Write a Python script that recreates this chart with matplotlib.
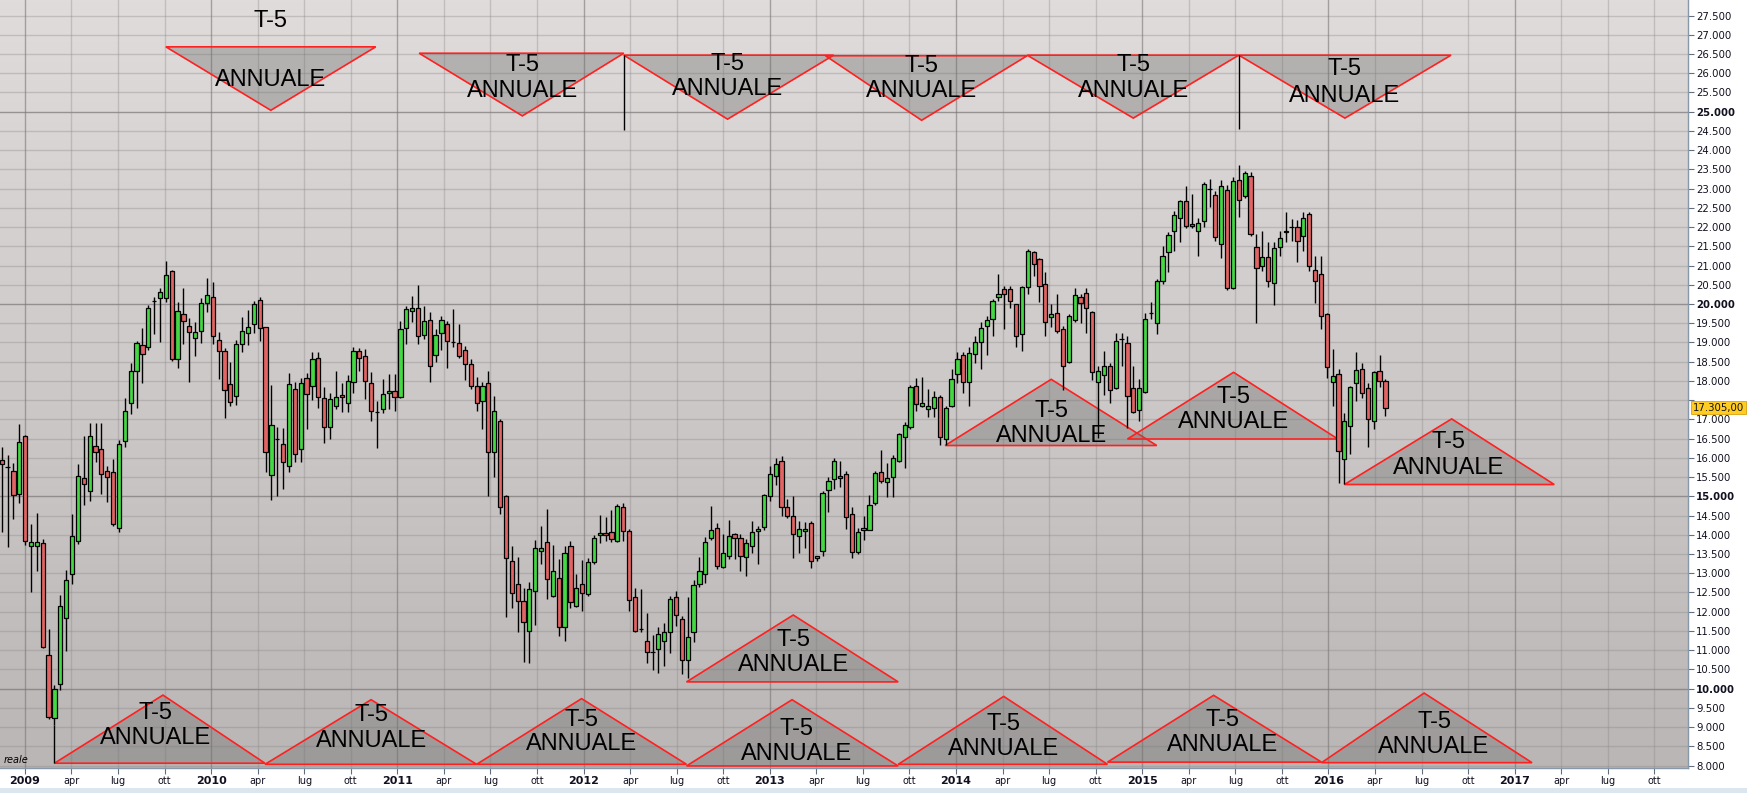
import numpy as np
import matplotlib
matplotlib.use("Agg")
import matplotlib.pyplot as plt
from matplotlib.patches import Polygon
from matplotlib.colors import LinearSegmentedColormap
from matplotlib.transforms import blended_transform_factory

# candele (O, H, L, C), una ogni ~11 giorni circa, da fine 2008 ad aprile 2016
opens = [15940, 15770, 15670, 15050, 16560, 13700, 13700, 13780, 10870, 9240,
         10110, 11840, 12970, 13830, 15470, 15150, 16320, 16220, 15670, 15620,
         14170, 16430, 17420, 18270, 18930, 18870, 20080, 20150, 20150, 20860,
         18560, 19730, 19430, 19110, 19290, 20020, 20170, 19060, 18770, 17910,
         17600, 18950, 19240, 19470, 20100, 19390, 15550, 16490, 16350, 15800,
         17780, 16220, 18070, 17860, 18590, 17550, 16790, 17340, 17630, 17420,
         17960, 18770, 18640, 17940, 17180, 17260, 17680, 17730, 17570, 19370,
         19810, 19890, 19190, 19580, 18670, 19240, 19470, 19000, 18980, 18800,
         18430, 17880, 17470, 17940, 16140, 16970, 15010, 13310, 12710, 12290,
         11490, 12530, 13570, 13800, 12400, 12870, 11600, 13700, 12140, 12710,
         12450, 13280, 13990, 14040, 14060, 13830, 14710, 14090, 12370, 11560,
         11250, 10940, 11020, 11250, 11460, 12370, 11800, 10740, 11460, 12710,
         12970, 13920, 14170, 13150, 13440, 14010, 13910, 13410, 13720, 14090,
         14190, 15000, 15520, 15910, 14710, 14480, 13960, 14090, 14300, 13390,
         13570, 15160, 15440, 15540, 15570, 14530, 13540, 14120, 14120, 14820,
         15620, 15360, 15490, 15930, 16530, 16790, 17860, 17360, 17260, 17300,
         17590, 16480, 17360, 18170, 18670, 17960, 18690, 19000, 19420, 19600,
         20170, 20380, 20380, 19990, 19210, 20430, 21340, 21160, 20510, 19650,
         19760, 19340, 18480, 19580, 20170, 20280, 19780, 17960, 18150, 18380,
         17810, 19100, 18980, 17820, 17240, 17700, 19760, 19500, 20610, 21340,
         21910, 22230, 22670, 22070, 21910, 22150, 22990, 22830, 21550, 22960,
         20410, 23220, 22800, 23320, 21470, 20980, 21210, 20540, 21470, 21860,
         21990, 21990, 21760, 22330, 20880, 20770, 19730, 17960, 18170, 15960,
         16820, 17940, 18300, 17810, 16970, 18250, 17990]
highs = [16290, 16070, 15860, 16880, 16600, 14270, 14560, 13890, 11550, 10090,
         12430, 13080, 14530, 15830, 16570, 16900, 16900, 16900, 15790, 15970,
         16460, 17550, 18460, 19040, 19370, 19970, 20170, 20410, 21120, 20890,
         20060, 20420, 19630, 19540, 20150, 20680, 20580, 19260, 18850, 18480,
         19060, 19660, 19840, 20090, 20180, 19400, 17890, 16800, 16780, 18210,
         17960, 18080, 18200, 18740, 18740, 17830, 17680, 18250, 17940, 18150,
         18870, 18850, 18820, 18220, 17490, 18040, 18170, 18170, 19550, 19950,
         20220, 20490, 19950, 19780, 19340, 19700, 19550, 19860, 19470, 18900,
         18560, 18090, 17960, 18270, 17610, 17000, 15030, 13710, 13410, 12610,
         12760, 13860, 14240, 14670, 13730, 13360, 13720, 13830, 12980, 13340,
         13390, 13990, 14510, 14450, 14640, 14790, 14820, 14140, 12610, 12580,
         11960, 11390, 11590, 11700, 12400, 12550, 11880, 12370, 12820, 13430,
         13950, 14760, 14300, 14010, 14380, 14040, 14010, 13880, 14350, 14240,
         15050, 15780, 15990, 16040, 14920, 15000, 14350, 14320, 14350, 13460,
         15130, 15490, 15990, 15930, 15670, 14710, 14170, 14480, 15030, 15650,
         16200, 15860, 16070, 16640, 16920, 17890, 18070, 18090, 17780, 17750,
         17630, 17350, 18300, 18740, 18740, 18890, 19160, 19520, 19700, 20120,
         20770, 20480, 20480, 20000, 20480, 21420, 21390, 21190, 20820, 19990,
         20250, 19420, 19730, 20410, 20250, 20410, 19810, 18400, 18790, 18460,
         19240, 19240, 19160, 18400, 18040, 19760, 20040, 20640, 21500, 21860,
         22410, 22700, 23060, 22850, 22230, 23160, 23240, 22930, 23220, 23090,
         23290, 23620, 23450, 23420, 21810, 21890, 21600, 21600, 21910, 22380,
         22200, 22180, 22380, 22380, 21260, 21240, 19760, 18820, 18300, 17160,
         17860, 18740, 18460, 17940, 18270, 18670, 18040]
lows = [14060, 13690, 14410, 14820, 13730, 12520, 13060, 11060, 9210, 9050,
        9960, 10990, 12720, 13750, 14770, 14880, 15880, 15070, 14860, 14240,
        14060, 16280, 17130, 17290, 17950, 18800, 19230, 19020, 20060, 18520,
        18340, 18950, 17980, 18660, 18990, 19800, 18970, 18050, 17040, 17360,
        17380, 18760, 18940, 19240, 19050, 15640, 14900, 15020, 15180, 15640,
        15880, 15880, 16740, 17500, 17290, 16380, 16480, 17260, 17180, 17180,
        17680, 18260, 17520, 16950, 16260, 17160, 17260, 17230, 17550, 18950,
        19520, 18950, 19080, 17960, 18480, 18800, 18330, 18890, 18590, 18020,
        17780, 17210, 16740, 15020, 15510, 14530, 11850, 12090, 11480, 10700,
        10670, 11660, 13230, 12320, 12370, 11380, 11250, 12090, 12110, 12010,
        12420, 13230, 13780, 13830, 13800, 13800, 13850, 12010, 11480, 11480,
        10670, 10490, 10410, 10600, 10930, 11620, 10390, 10280, 11220, 12650,
        12740, 13860, 13100, 13130, 13360, 13360, 13050, 12940, 13520, 13230,
        14120, 14890, 15290, 14500, 14430, 13390, 13520, 13650, 13130, 13310,
        13440, 14580, 15180, 15230, 14140, 13390, 13490, 13860, 14120, 14770,
        15340, 14970, 14990, 15880, 15730, 16740, 17220, 17330, 17070, 17070,
        16340, 16340, 17330, 17940, 17680, 17360, 18460, 18300, 18670, 19180,
        20090, 19340, 19890, 18870, 18770, 20250, 20720, 20040, 19180, 19390,
        19240, 17760, 18460, 19520, 19500, 19240, 18020, 16510, 17630, 17420,
        17780, 18400, 16770, 17160, 16970, 17680, 19600, 19210, 20510, 20820,
        21370, 21600, 21970, 21970, 21260, 21990, 22510, 21630, 21190, 20360,
        20380, 22250, 22750, 21760, 19500, 20850, 20430, 19970, 21240, 21600,
        21630, 21080, 21370, 20850, 20020, 19340, 18070, 17340, 15340, 15310,
        16090, 17470, 17550, 16270, 16740, 17830, 17100]
closes = [15830, 15770, 15030, 16400, 13850, 13820, 13800, 11090, 9270, 9980,
          12150, 12820, 13960, 15540, 15330, 16560, 16140, 15590, 15490, 14270,
          16350, 17210, 18270, 18980, 18690, 19890, 20080, 20300, 20750, 18560,
          19830, 19570, 19260, 19260, 20020, 20230, 19170, 18770, 17760, 17440,
          18950, 19300, 19390, 20000, 19380, 16140, 16850, 16490, 15880, 17910,
          16090, 17940, 17650, 18560, 17570, 16790, 17520, 17570, 17570, 18010,
          18770, 18590, 17990, 17210, 17180, 17650, 17730, 17570, 19340, 19860,
          19890, 19160, 19550, 18400, 19190, 19580, 19050, 19000, 18640, 18430,
          17880, 17420, 17880, 16140, 17220, 14710, 13390, 12480, 12280, 11720,
          12580, 13650, 13650, 12840, 13050, 11600, 13520, 12240, 12610, 12480,
          13280, 13910, 14040, 13990, 13880, 14750, 14110, 12300, 11510, 11560,
          10940, 10940, 11410, 11460, 12320, 11910, 10740, 11330, 12690, 13050,
          13810, 14120, 13180, 13520, 13980, 13910, 13440, 13780, 14060, 14140,
          15030, 15570, 15830, 14710, 14500, 14010, 14140, 14140, 13330, 13440,
          15080, 15390, 15910, 15470, 14450, 13540, 14060, 14170, 14770, 15600,
          15390, 15470, 15990, 16610, 16850, 17830, 17390, 17430, 17340, 17590,
          16530, 17290, 18040, 18580, 17960, 18720, 19000, 19370, 19580, 20070,
          20250, 20250, 20090, 19180, 20430, 21370, 21030, 20480, 19520, 19730,
          19290, 18380, 19680, 20230, 20020, 19890, 18220, 18250, 18380, 17760,
          19030, 19100, 17600, 17180, 17810, 19600, 19760, 20610, 21260, 21790,
          22310, 22670, 22020, 22020, 22100, 23110, 22990, 21730, 23060, 20410,
          23190, 22700, 23400, 21810, 20930, 21210, 20610, 21450, 21710, 21910,
          21990, 21630, 22230, 20980, 20590, 19700, 18350, 18120, 16190, 16970,
          17830, 18280, 17680, 17000, 18220, 18010, 17305]
last_price = 17305

years = list(range(2009, 2018))
months = ["apr", "lug", "ott"]

# triangoli "T-5 ANNUALE": (indice sinistro, indice destro, indice vertice, livello base, livello vertice)
cycles_top = [(28.0, 63.8, 45.9, 26687, 25036), (71.2, 106.1, 88.8, 26520, 24891),
              (106.1, 141.9, 123.8, 26470, 24805), (140.5, 174.9, 156.9, 26455, 24776),
              (174.9, 211.0, 193.0, 26470, 24833), (211.0, 247.2, 229.1, 26470, 24833)]
cycles_bottom = [(9.0, 44.9, 27.5, 8061, 9832), (44.9, 81.0, 63.0, 8032, 9712),
                 (81.0, 116.8, 98.9, 8032, 9740), (116.8, 152.9, 134.8, 7990, 9712),
                 (152.9, 188.6, 170.9, 8032, 9798), (188.6, 225.1, 206.7, 8089, 9826),
                 (225.1, 261.0, 242.6, 8075, 9885)]
cycles_mid = [(116.8, 152.9, 135.0, 10175, 11914), (160.9, 197.0, 179.0, 16321, 18042),
              (192.0, 227.9, 210.1, 16490, 18224), (229.0, 264.8, 247.3, 15307, 17013)]
# posizione etichette (indice, livello "T-5", livello "ANNUALE")
labels_top = [(45.9, 27353, 25819), (88.8, 26224, 25528), (123.8, 26253, 25587),
              (156.9, 26180, 25528), (193.0, 26224, 25528), (229.1, 26107, 25413)]
labels_bottom = [(26.3, 9363, 8726), (63.0, 9306, 8638), (98.9, 9189, 8552),
                 (135.5, 8958, 8292), (170.9, 9075, 8438), (208.2, 9189, 8524),
                 (244.3, 9132, 8495)]
labels_mid = [(135.0, 11274, 10609), (179.1, 17215, 16578), (210.1, 17590, 16924),
              (246.8, 16404, 15736)]
# linee verticali di inizio ciclo (indice, da, a)
cycle_marks = [(9.0, 8061, 9050), (106.1, 24524, 26474), (211.0, 24550, 26484)]

fig = plt.figure(figsize=(17.47, 7.93), dpi=100)
fig.patch.set_facecolor("white")
ax = fig.add_axes([0, 0.0315, 0.9662, 0.9685])

n = len(opens)
x = np.arange(n)
ax.set_xlim(-0.29, 287.6)
ax.set_ylim(7936, 27904)

# sfondo sfumato
cmap = LinearSegmentedColormap.from_list("bg", ["#bab6b5", "#e0dcdb"])
grad = np.linspace(0, 1, 256).reshape(-1, 1)
ax.imshow(grad, extent=(0, 1, 0, 1), transform=ax.transAxes, cmap=cmap,
          aspect="auto", origin="lower", zorder=0)

# griglia
for lev in range(8000, 28000, 500):
    if lev % 5000 == 0:
        ax.axhline(lev, color="#7a7676", lw=1.0, alpha=0.7, zorder=0.5)
    else:
        ax.axhline(lev, color="#8a8686", lw=1.0, alpha=0.35, zorder=0.5)
tick_pos = [3.96 + q * 7.94 for q in range(len(years) * 4)]
tick_lab = []
for yv in years:
    tick_lab += [str(yv)] + months
for q, tp in enumerate(tick_pos):
    if q % 4 == 0:
        ax.axvline(tp, color="#7a7676", lw=1.0, alpha=0.6, zorder=0.5)
    else:
        ax.axvline(tp, color="#8a8686", lw=1.0, alpha=0.35, zorder=0.5)

# triangoli dei cicli
def draw_cycles(cycles, labels):
    for (xl, xr, xa, yb, ya), (lx, l1, l2) in zip(cycles, labels):
        tri = Polygon([[xl, yb], [xr, yb], [xa, ya]], closed=True,
                      facecolor=(0.42, 0.42, 0.42, 0.36), edgecolor="#ff2020",
                      lw=1.2, zorder=1)
        ax.add_patch(tri)
        ax.text(lx, l1, "T-5", ha="center", va="center", fontsize=17,
                family="Liberation Sans", zorder=5)
        ax.text(lx, l2, "ANNUALE", ha="center", va="center", fontsize=17,
                family="Liberation Sans", zorder=5)

draw_cycles(cycles_top, labels_top)
draw_cycles(cycles_bottom, labels_bottom)
draw_cycles(cycles_mid, labels_mid)

for xm, y0, y1 in cycle_marks:
    ax.vlines(xm, y0, y1, color="black", lw=1.0, zorder=2)

# candele
o = np.array(opens)
h = np.array(highs)
l = np.array(lows)
c = np.array(closes)
up = c >= o
ax.vlines(x, l, h, color="black", lw=1.0, zorder=2)
body_lo = np.minimum(o, c)
body_h = np.abs(c - o)
ax.bar(x[up], body_h[up], bottom=body_lo[up], width=0.72, color="#44d844",
       edgecolor="black", lw=0.9, zorder=3)
ax.bar(x[~up], body_h[~up], bottom=body_lo[~up], width=0.72, color="#e26464",
       edgecolor="black", lw=0.9, zorder=3)

# assi
ax.yaxis.tick_right()
yt = list(range(8000, 28000, 500))
ax.set_yticks(yt)
ylabs = []
for v in yt:
    # l'etichetta 17.500 resta coperta dal riquadro del prezzo corrente
    ylabs.append("" if v == 17500 else f"{v:,}".replace(",", "."))
ax.set_yticklabels(ylabs, fontsize=7.3, color="#101020")
for lab, v in zip(ax.get_yticklabels(), yt):
    if v % 5000 == 0:
        lab.set_fontweight("bold")
ax.tick_params(axis="y", direction="out", length=4, width=0.8, color="#607080", pad=2)

ax.set_xticks(tick_pos)
ax.set_xticklabels(tick_lab, fontsize=7, color="#101020")
for q, lab in enumerate(ax.get_xticklabels()):
    if q % 4 == 0:
        lab.set_fontweight("bold")
        lab.set_fontsize(8)
ax.tick_params(axis="x", direction="out", length=4, width=0.8, color="#607080", pad=2)

for s in ["top", "left"]:
    ax.spines[s].set_visible(False)
for s in ["right", "bottom"]:
    ax.spines[s].set_color("#8898a8")
    ax.spines[s].set_linewidth(1.0)

# prezzo corrente
tr = blended_transform_factory(ax.transAxes, ax.transData)
ax.text(1.003, last_price, f"{last_price:,}".replace(",", ".") + ",00", transform=tr,
        fontsize=7.3, va="center", ha="left", color="#101020", zorder=6,
        bbox=dict(boxstyle="square,pad=0.15", facecolor="#ffcc22", edgecolor="#d8a010", lw=0.6))

ax.text(0.002, 0.004, "reale", transform=ax.transAxes, fontsize=7,
        style="italic", ha="left", va="bottom", zorder=6)

# striscia inferiore
fig.patches.append(plt.Rectangle((0, 0), 1, 0.006, transform=fig.transFigure,
                                 facecolor="#dce6ee", edgecolor="none"))

fig.savefig("out.png", dpi=100)
